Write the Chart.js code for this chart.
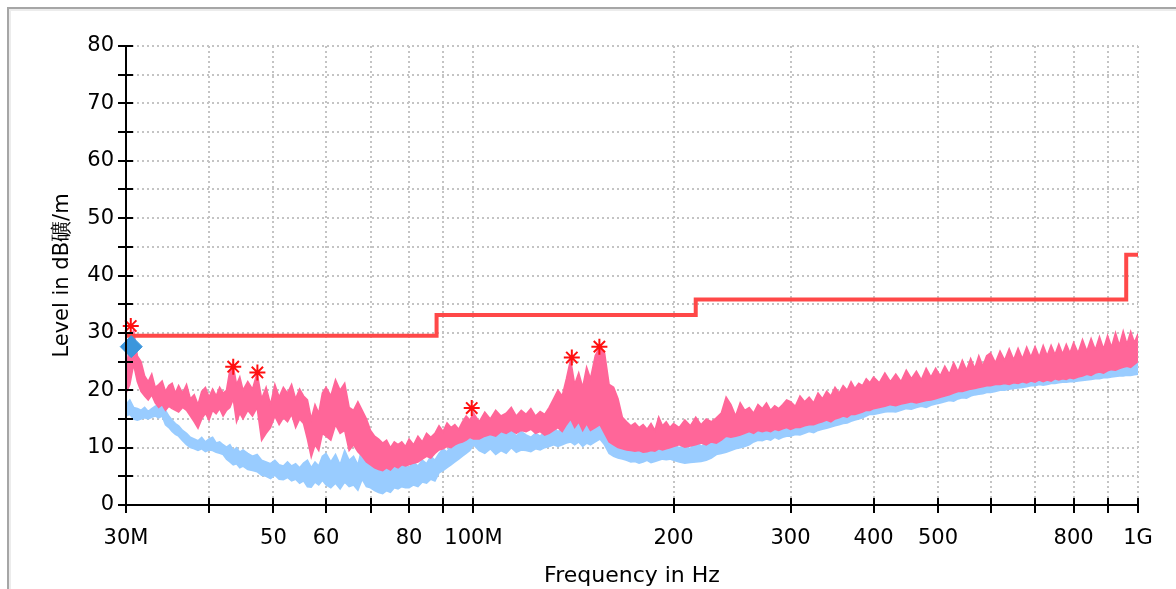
<!DOCTYPE html>
<html>
<head>
<meta charset="utf-8">
<script src="https://cdn.jsdelivr.net/npm/chart.js@4.4.1/dist/chart.umd.min.js"></script>
<style>
  html, body { margin: 0; padding: 0; background: #fff; overflow: hidden; }
  #frame {
    position: absolute; left: 7px; top: 7px; width: 1200px; height: 620px;
    border-left: 2px solid #a6a6a6; border-top: 2px solid #a6a6a6;
    box-shadow: inset 2px 2px 0 #ececec;
  }
  #emiChart { position: absolute; left: 0; top: 0; }
</style>
</head>
<body>
<div id="frame"></div>
<canvas id="emiChart" width="1176" height="589"></canvas>
<script>
// sweep frequencies (MHz)
const freqMHz = [
  30, 30.4, 30.8, 31.2, 31.6, 32, 32.4, 32.8, 33.2, 33.6, 34, 34.4, 34.8, 35.2, 35.6,
  36, 36.5, 37, 37.5, 38, 38.5, 39, 39.5, 40, 40.5, 41, 41.5, 42, 42.5, 43, 43.5, 44, 44.5,
  45, 45.75, 46.5, 47.25, 48, 48.75, 49.5, 50.25, 51, 51.75, 52.5, 53.25, 54, 54.75, 55.5, 56.25, 57, 57.75, 58.5, 59.25,
  60, 61, 62, 63, 64, 65, 66, 67, 68, 69, 70, 71, 72, 73, 74, 75, 76, 77, 78, 79,
  80, 81.25, 82.5, 83.75, 85, 86.25, 87.5, 88.75, 90, 91.25, 92.5, 93.75, 95, 96.25, 97.5, 98.75,
  100, 102, 104, 106, 108, 110, 112, 114, 116, 118, 120, 122, 124, 126, 128, 130, 132, 134, 136, 138, 140, 142, 144, 146, 148,
  150, 152.5, 155, 157.5, 160, 162.5, 165, 167.5, 170, 172.5, 175, 177.5, 180, 182.5, 185, 187.5, 190, 192.5, 195, 197.5,
  200, 204, 208, 212, 216, 220, 224, 228, 232, 236, 240, 244, 248, 252, 256, 260, 264, 268, 272, 276, 280, 284, 288, 292, 296,
  300, 305, 310, 315, 320, 325, 330, 335, 340, 345, 350, 355, 360, 365, 370, 375, 380, 385, 390, 395,
  400, 408, 416, 424, 432, 440, 448, 456, 464, 472, 480, 488, 496, 504, 512, 520, 528, 536, 544, 552, 560, 568, 576, 584, 592,
  600, 610, 620, 630, 640, 650, 660, 670, 680, 690, 700, 710, 720, 730, 740, 750, 760, 770, 780, 790,
  800, 812.5, 825, 837.5, 850, 862.5, 875, 887.5, 900, 912.5, 925, 937.5, 950, 962.5, 975, 987.5, 1000
];

// peak trace (pink): upper and lower edge of the noisy band, dBuV/m
const peakHi = [
  23.5, 28, 30.5, 26, 25, 22.5, 21.5, 22.8, 20.5, 21, 21.6, 19.8, 20.8, 21.2, 19.5,
  20.8, 19.5, 21, 18.5, 19.2, 17.5, 19.8, 20.5, 18.8, 20.2, 19, 20.5, 19.5, 20, 23.5, 24.2, 21, 22.3,
  20, 21.5, 20.2, 23, 18.5, 20.5, 17.5, 21, 18.8, 20.5, 19.5, 21, 18.5, 20.2, 19, 18.3, 15, 17.5, 16, 19.5,
  20.5, 19, 21.8, 20, 21.2, 17, 16.5, 18, 16.5, 15, 13, 12, 11.5, 10.8, 11.3, 10, 11, 10.5, 11, 10.2,
  11.5, 10.5, 12, 11, 12.5, 11.8, 12.5, 13.8, 12.8, 14.3, 13.5, 14, 13.2, 14.5, 15.5, 14.8,
  16, 14.5, 16.2, 15, 16.5, 15.5, 16, 17, 15.5, 16.5, 15.8, 16.8, 15.5, 16.3, 15.8, 17, 18.5, 20, 19, 22, 25.3, 21, 23, 20.5, 24,
  22, 26, 27.6, 26.5, 21, 20.5, 18.5, 15.3, 14.5, 13.8, 14.3, 13.5, 14, 13.2, 14.2, 13, 15.3, 13.8, 14.5, 13.5,
  14.2, 13.5, 14.8, 13.8, 15.3, 14, 15, 14.5, 15.2, 16, 18.8, 17.5, 15.5, 17.8, 16.5, 17, 16, 17.5, 16.8, 17.8, 16.5, 17.3, 16.8, 17.5, 18.3,
  18, 17.2, 19, 18, 18.8, 17.8, 19.5, 18.5, 19.8, 19, 20.5, 19.5, 20.8, 20, 21.5, 20.3, 21.2, 20.8, 22, 21.3,
  22.3, 21.3, 23, 21.5, 22.8, 21.5, 23.5, 22, 23.3, 21.8, 23.8, 22.3, 23.8, 22.5, 24.2, 22.8, 24.8, 23.2, 25.2, 23.5, 25.5, 23.8, 26, 24.2, 26,
  26.5, 24.8, 26.8, 25.2, 27.2, 25.3, 27.3, 25.5, 27.5, 25.8, 27.6, 25.8, 27.8, 26, 27.8, 26.2, 28, 26.3, 28, 26.5,
  28.3, 26.5, 28.8, 26.8, 29, 27, 29.3, 27.2, 29.5, 27.5, 30, 27.8, 30.3, 28, 30.2, 28.3, 29.8
];
const peakLo = [
  19.5, 21, 24.5, 21.5, 19.8, 19, 18.3, 19.2, 17.8, 17, 17.5, 16.5, 17.2, 16.8, 16.5,
  16.2, 17, 16.5, 15.5, 14.5, 13.4, 15, 16, 14.8, 16.5, 15.9, 16.8, 15.5, 16.5, 17, 18.5, 14.5, 16,
  15, 16.5, 15.5, 17, 11.3, 12.5, 13.5, 15.5, 14, 15.2, 14.5, 15.8, 13.5, 15, 14.2, 11.5, 8.4, 10.5, 9.5, 12.5,
  12, 11.3, 14, 12.5, 13, 9.5, 10.5, 9.3, 8.5, 7.5, 7, 6.5, 6.2, 6, 6.5, 6.1, 6.8, 6.5, 7, 6.8,
  7, 7.3, 7.5, 8, 8.5, 8.2, 9, 9.6, 9.8, 10.2, 10, 10.5, 10.8, 11, 11.3, 11.8,
  11.5, 11.5, 12, 12.3, 12, 12.8, 12.5, 13, 12.5, 13, 12.8, 13.2, 12.5, 12.8, 12.2, 12.5, 13, 13.5, 12.8, 14, 15, 13.5, 14.5, 13, 14.2,
  13, 13.5, 14, 12.5, 11, 10.5, 10, 9.8, 9.6, 9.5, 9.4, 9.5, 9.2, 9.3, 9.5, 9.4, 9.8, 9.6, 9.8, 10,
  10.2, 10.5, 10.1, 10.3, 10.5, 10.8, 10.5, 11, 10.8, 11.3, 12, 11.8, 12, 12.2, 12.5, 12.8, 12.5, 13, 12.8, 13, 12.8, 13.2, 13, 13.3, 13.5,
  13.2, 13.5, 13.5, 13.8, 14, 14, 14.3, 14.5, 14.8, 14.5, 15, 15.2, 15.5, 15.3, 15.8, 15.8, 16, 16.2, 16.5, 16.5,
  16.8, 17, 17.2, 17.5, 17.3, 17.6, 17.8, 18, 17.8, 18, 18.2, 18.3, 18.5, 18.8, 19, 19.2, 19.5, 19.8, 19.8, 20, 20.2, 20.3, 20.5, 20.6, 20.8,
  20.8, 21, 21, 21.2, 21, 21.3, 21.2, 21.5, 21.3, 21.6, 21.4, 21.8, 21.5, 21.8, 21.6, 22, 21.8, 22, 21.9, 22.2,
  22, 22.3, 22.5, 22.8, 22.6, 23, 23.2, 23, 23.4, 23.6, 23.5, 23.8, 24, 24.2, 24, 24.5, 25
];

// average trace (light blue)
const avgHi = [
  17.5, 18.3, 17, 16.8, 16.5, 17, 16.3, 16.8, 17.2, 17.5, 18, 16.5, 15.5, 14.8, 14.2,
  13.8, 13, 12.5, 11.8, 11.5, 11.2, 11.8, 11, 11.5, 11.8, 10.8, 11, 10.5, 10.1, 10.5, 9.5, 10, 9.2,
  9.6, 9, 8.5, 8.8, 7.8, 7.5, 7.2, 7.8, 7, 6.8, 7.5, 6.8, 7.2, 6.5, 7.3, 7.8, 6.5, 7.5, 6.8, 8.5,
  9, 7.5, 8.8, 7, 9.5, 7.8, 8.5, 7, 10, 8, 7.3, 6.5, 7, 6, 6.8, 6.2, 7.3, 6.5, 7, 6.8,
  6.5, 7.5, 6.8, 7.8, 7.2, 8.5, 7.8, 9, 9.8, 9.2, 10.5, 11, 10.5, 11.8, 12.5, 13.5,
  16, 13, 12.5, 13, 11.8, 12.8, 12.2, 13, 12, 12.8, 12.2, 11.8, 12.5, 12, 12.8, 12.5, 13.5, 12.8, 13.2, 14.5, 15.5, 14, 15, 13.8, 16,
  14.5, 15.5, 17.8, 16, 12.5, 11.8, 11.5, 11, 10.5, 10.8, 10.2, 10.5, 10, 10.6, 10.2, 10.8, 10.4, 11, 10.5, 10.8,
  10.5, 10, 10.3, 9.8, 11.5, 10.2, 10.8, 11.5, 12, 11.8, 12.5, 12.2, 13, 12.5, 13, 13.5, 13.2, 14.2, 13.8, 14.5, 14, 14.8, 14.2, 14.6, 14.8,
  14.5, 15, 14.8, 15.2, 15, 15.5, 15.3, 15.8, 16, 15.8, 16.5, 16.3, 16.8, 16.5, 17.2, 17, 17.5, 17.3, 17.8, 17.6,
  18.5, 18.8, 19, 19.2, 19, 19.5, 19.3, 19.8, 19.6, 20, 19.8, 20.3, 20.2, 20.6, 20.4, 21, 20.8, 21.3, 21.2, 21.5, 21.4, 21.8, 21.6, 22, 22,
  22.2, 22, 22.5, 22.3, 22.6, 22.4, 22.8, 22.6, 23, 22.8, 23.2, 23, 23.4, 23.2, 23.5, 23.3, 23.6, 23.4, 23.8, 23.6,
  23.8, 24, 23.9, 24.2, 24.1, 24.4, 24.3, 24.6, 24.5, 24.8, 24.7, 25, 24.9, 25.2, 25, 25.4, 25.3
];
const avgLo = [
  15.5, 15.8, 15, 14.8, 15, 15.2, 15, 15.3, 15.5, 15.2, 15.5, 14, 13.5, 12.8, 12.3,
  12, 11.2, 10.5, 10, 9.8, 9.5, 9.8, 9.3, 9.6, 9.5, 9.2, 9, 8.8, 8, 7.5, 7, 7.2, 6.5,
  6.8, 6.2, 6, 5.8, 5.2, 5, 4.6, 5.2, 4.5, 4.4, 4.8, 4.2, 4.5, 3.8, 4.2, 3.2, 3.1, 4, 3.5, 4.3,
  3.5, 3, 3.8, 2.8, 4, 3.2, 3.5, 2.6, 4.5, 3.2, 3, 2.5, 2.2, 2, 2.5, 2.2, 3, 2.8, 3.2, 3,
  3, 3.5, 3.2, 4, 3.8, 4.5, 4.2, 5.6, 6, 6.5, 7, 7.5, 8, 8.5, 9, 9.5,
  10.5, 9.5, 9, 9.8, 8.8, 9.5, 9, 10, 9.2, 9.6, 9.5, 9.3, 9.8, 9.6, 10, 10.2, 10.5, 10.2, 10.5, 10.8, 11, 10.5, 11, 10.2, 10.8,
  10.5, 11, 11.5, 10.5, 9, 8.5, 8.2, 8, 7.8, 7.5, 7.6, 7.3, 7.5, 7.8, 7.4, 7.6, 7.8, 8, 7.9, 8,
  7.8, 7.5, 7.3, 7.4, 7.5, 7.6, 7.8, 8.2, 8.8, 9, 9.2, 9.5, 9.8, 10, 10.2, 10.5, 11, 11.3, 11.2, 11.5, 11.3, 11.8, 11.5, 11.8, 12,
  12, 12.3, 12.2, 12.5, 12.8, 12.6, 13, 13.2, 13.4, 13.6, 13.8, 14, 14.2, 14.3, 14.6, 14.8, 15, 15.2, 15.5, 15.8,
  15.8, 16, 16.2, 16.3, 16.2, 16.5, 16.8, 16.7, 17, 17.2, 17, 17.4, 17.6, 17.8, 18, 18.2, 18.1, 18.5, 18.7, 18.6, 19, 19.2, 19.3, 19.4, 19.6,
  19.6, 19.8, 20, 20, 20.2, 20.3, 20.4, 20.5, 20.6, 20.8, 20.8, 21, 20.9, 21, 21.2, 21.2, 21.3, 21.4, 21.4, 21.5,
  21.5, 21.6, 21.7, 21.8, 21.9, 22, 22, 22.2, 22.2, 22.3, 22.4, 22.5, 22.5, 22.6, 22.6, 22.7, 22.8
];

// limit line (stepped)
const limitFreq = [30, 88, 216, 960, 1000];
const limitLevel = [29.5, 33.1, 35.8, 43.6, 43.6];

// critical peaks (asterisks) and final measurement (diamond)
const peakMarkFreq = [30.5, 43.5, 47.3, 99.4, 140.6, 154.7];
const peakMarkLevel = [31.2, 24.1, 23.1, 16.9, 25.7, 27.6];
const finalFreq = [30.55];
const finalLevel = [27.6];

// axis ticks
const xTickValues = [30, 40, 50, 60, 70, 80, 90, 100, 200, 300, 400, 500, 600, 700, 800, 900, 1000];
const xTickLabels = ['30M', '', '50', '60', '', '80', '', '100M', '200', '300', '400', '500', '', '', '800', '', '1G'];

const font = 'DejaVu Sans';
const pink = '#ff6699';
const blue = '#99ccff';

const edge = (levels) => freqMHz.map((f, i) => ({ x: f, y: levels[i] }));

// small tick marks pointing into the plot, like the original crossing ticks
const innerTicks = {
  id: 'innerTicks',
  afterDatasetsDraw(chart) {
    const { ctx, chartArea, scales } = chart;
    ctx.save();
    ctx.strokeStyle = '#000';
    ctx.lineWidth = 2;
    ctx.beginPath();
    scales.x.ticks.forEach((t) => {
      const px = Math.round(scales.x.getPixelForValue(t.value));
      ctx.moveTo(px, chartArea.bottom);
      ctx.lineTo(px, chartArea.bottom - 7);
    });
    scales.y.ticks.forEach((t) => {
      const py = Math.round(scales.y.getPixelForValue(t.value));
      ctx.moveTo(chartArea.left, py);
      ctx.lineTo(chartArea.left + 7, py);
    });
    ctx.stroke();
    ctx.restore();
  },
};

const data = {
  datasets: [
    {
      label: 'Critical peaks',
      data: peakMarkFreq.map((f, i) => ({ x: f, y: peakMarkLevel[i] })),
      showLine: false,
      pointStyle: 'star',
      pointRadius: 8,
      borderColor: '#ff1010',
      borderWidth: 2,
      clip: false,
      order: 0,
    },
    {
      label: 'Final',
      data: finalFreq.map((f, i) => ({ x: f, y: finalLevel[i] })),
      showLine: false,
      pointStyle: 'rectRot',
      pointRadius: 11,
      backgroundColor: '#3b96dc',
      borderColor: '#3b96dc',
      borderWidth: 1,
      clip: false,
      order: 1,
    },
    {
      label: 'Limit',
      data: limitFreq.map((f, i) => ({ x: f, y: limitLevel[i] })),
      stepped: 'before',
      borderColor: '#ff4848',
      borderWidth: 4,
      pointRadius: 0,
      order: 2,
    },
    {
      label: 'Peak',
      data: edge(peakHi),
      borderColor: pink,
      backgroundColor: pink,
      borderWidth: 1.6,
      pointRadius: 0,
      fill: '+1',
      order: 3,
    },
    {
      label: 'Peak low',
      data: edge(peakLo),
      borderColor: pink,
      borderWidth: 1.6,
      pointRadius: 0,
      order: 4,
    },
    {
      label: 'Average',
      data: edge(avgHi),
      borderColor: blue,
      backgroundColor: blue,
      borderWidth: 1.6,
      pointRadius: 0,
      fill: '+1',
      order: 5,
    },
    {
      label: 'Average low',
      data: edge(avgLo),
      borderColor: blue,
      borderWidth: 1.6,
      pointRadius: 0,
      order: 6,
    },
  ],
};

const config = {
  type: 'line',
  data: data,
  plugins: [innerTicks],
  options: {
    responsive: false,
    animation: false,
    layout: { padding: { top: 46, right: 38, left: 0, bottom: 0 } },
    plugins: { legend: { display: false }, tooltip: { enabled: false } },
    scales: {
      x: {
        type: 'logarithmic',
        min: 30,
        max: 1000,
        afterBuildTicks: (scale) => {
          scale.ticks = xTickValues.map((v) => ({ value: v }));
        },
        afterFit: (scale) => { scale.height = 84; },
        ticks: {
          autoSkip: false,
          maxRotation: 0,
          color: '#000',
          padding: 13,
          font: { family: font, size: 21 },
          callback: (value) => {
            const i = xTickValues.indexOf(value);
            return i >= 0 ? xTickLabels[i] : '';
          },
        },
        grid: { color: '#c4c4c4', lineWidth: 2, tickLength: 8, tickWidth: 2, tickColor: '#000' },
        border: { color: '#000', width: 2, dash: [2, 3], z: 1 },
        title: {
          display: true,
          text: 'Frequency in Hz',
          color: '#000',
          font: { family: font, size: 22 },
          padding: { top: 0, bottom: 0 },
        },
      },
      y: {
        min: 0,
        max: 80,
        afterFit: (scale) => { scale.width = 126; },
        ticks: {
          stepSize: 5,
          color: '#000',
          padding: 4,
          font: { family: font, size: 21 },
          callback: (v) => (v % 10 === 0 ? String(v) : ''),
        },
        grid: { color: '#c4c4c4', lineWidth: 2, tickLength: 8, tickWidth: 2, tickColor: '#000' },
        border: { color: '#000', width: 2, dash: [2, 3], z: 1 },
        title: {
          display: true,
          text: 'Level in dB礦/m',
          color: '#000',
          font: { family: font, size: 21 },
          padding: { top: 50, bottom: 0 },
        },
      },
    },
  },
};

const emiChart = new Chart(document.getElementById('emiChart'), config);
</script>
</body>
</html>
